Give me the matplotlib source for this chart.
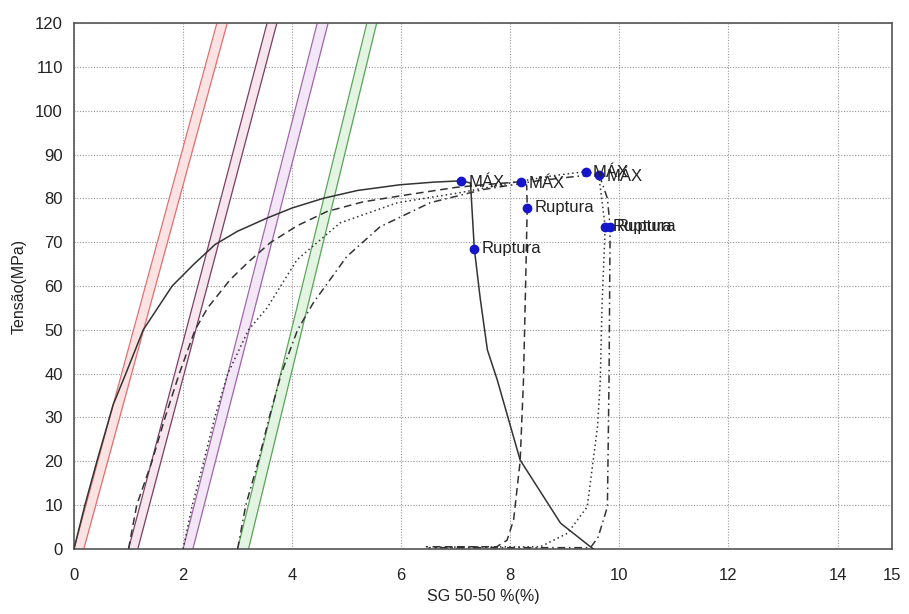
import numpy as np
import matplotlib.pyplot as plt

plt.rcParams['font.family'] = ['Liberation Sans', 'DejaVu Sans']

# ---------------- Data ----------------
# curve 1 (solid), starts at 0 %
c1_x = [0.0, 0.2, 0.42, 0.72, 0.95, 1.27, 1.8, 2.2, 2.59, 3.0, 3.54, 4.0, 4.57, 5.2, 5.98, 6.6, 7.10,
        7.27, 7.34, 7.45, 7.58, 7.76, 8.18, 8.92, 9.52]
c1_y = [0.0, 10, 20, 33, 40, 50, 60, 65, 69.5, 72.5, 75.5, 77.8, 80, 81.8, 83.1, 83.7, 84.0,
        83.5, 68.5, 57, 45.4, 38.6, 20.3, 5.9, 0.0]

# curve 2 (dashed), starts at 1 %
c2_x = [1.0, 1.15, 1.43, 1.67, 1.93, 2.22, 2.45, 2.86, 3.2, 3.6, 4.1, 4.64, 5.3, 6.0, 7.0, 7.6, 8.20,
        8.30, 8.31, 8.28, 8.24, 8.18, 8.06, 7.94, 7.75, 6.45]
c2_y = [0.0, 10, 20, 30, 40, 50, 55, 61.4, 65.5, 69.9, 73.8, 77, 79.2, 80.6, 82.5, 83.2, 83.8,
        83.0, 77.9, 60, 38, 20, 6.6, 2.0, 0.5, 0.5]

# curve 3 (dotted), starts at 2 %
c3_x = [2.0, 2.17, 2.38, 2.58, 2.82, 3.2, 3.54, 4.09, 4.88, 5.93, 7.08, 8.0, 8.8, 9.38,
        9.62, 9.74, 9.68, 9.65, 9.6, 9.41, 9.05, 8.55, 6.6]
c3_y = [0.0, 10, 20, 30, 40, 50, 55, 66, 74.4, 79, 81.3, 83.5, 85.2, 86.1,
        85.5, 73.5, 55, 38.6, 28, 9.6, 3.6, 0.5, 0.4]

# curve 4 (dash-dot), starts at 3 %
c4_x = [3.0, 3.15, 3.38, 3.58, 3.8, 4.1, 4.39, 5.0, 5.61, 6.53, 7.5, 8.5, 9.2, 9.63,
        9.78, 9.83, 9.81, 9.78, 9.61, 9.47, 6.5]
c4_y = [0.0, 10, 20, 30, 40, 50, 56.2, 66.7, 73.5, 79, 82, 84, 85, 85.4,
        80, 73.5, 38.6, 9.6, 2.7, 0.3, 0.3]

# modulus lines: strain at 0 MPa and at 120 MPa (pair per specimen)
mod_x0_a = [0.0, 1.0, 2.0, 3.0]
mod_x120_a = [2.62, 3.54, 4.46, 5.37]
mod_x0_b = [0.18, 1.17, 2.18, 3.2]
mod_x120_b = [2.81, 3.72, 4.66, 5.55]

# marked points
max_x = [7.10, 8.20, 9.38, 9.63]
max_y = [84.0, 83.8, 86.1, 85.4]
rup_x = [7.34, 8.31, 9.74, 9.83]
rup_y = [68.5, 77.9, 73.5, 73.5]

x_ticks = [0, 2, 4, 6, 8, 10, 12, 14, 15]
y_ticks = list(range(0, 121, 10))

# ---------------- Plot ----------------
fig = plt.figure(figsize=(9.09, 6.14), dpi=100)
ax = fig.add_axes([0.0814, 0.1059, 0.9, 0.8566])

line_cols = ['#e07070', '#7a3f62', '#a067a8', '#5aa55a']
fill_cols = ['#fbe3e3', '#f8e6ef', '#f3e6f6', '#e3f4e3']
yy = np.array([0.0, 120.0])
for i in range(4):
    xa = np.array([mod_x0_a[i], mod_x120_a[i]])
    xb = np.array([mod_x0_b[i], mod_x120_b[i]])
    ax.fill_betweenx(yy, xa, xb, color=fill_cols[i], lw=0, zorder=1)
    ax.plot(xa, yy, color=line_cols[i], lw=0.9, zorder=2)
    ax.plot(xb, yy, color=line_cols[i], lw=0.9, zorder=2)

ax.plot(c1_x, c1_y, color='#333333', lw=1.1, ls='-', zorder=3)
ax.plot(c2_x, c2_y, color='#333333', lw=1.1, ls=(0, (5, 3)), zorder=3)
ax.plot(c3_x, c3_y, color='#333333', lw=1.1, ls=(0, (1, 2)), zorder=3)
ax.plot(c4_x, c4_y, color='#333333', lw=1.1, ls=(0, (5, 2.5, 1, 2.5)), zorder=3)

ax.plot(max_x, max_y, 'o', color='#1515cc', ms=6, zorder=5)
ax.plot(rup_x, rup_y, 'o', color='#1515cc', ms=6, zorder=5)
for x, y in zip(max_x, max_y):
    ax.annotate('MÁX', (x, y), xytext=(5, -1), textcoords='offset points',
                va='center', ha='left', fontsize=12, color='#222222', zorder=6)
for x, y in zip(rup_x, rup_y):
    ax.annotate('Ruptura', (x, y), xytext=(5, 0), textcoords='offset points',
                va='center', ha='left', fontsize=12, color='#222222', zorder=6)

ax.set_xlim(0, 15)
ax.set_ylim(0, 120)
ax.set_xticks(x_ticks)
ax.set_yticks(y_ticks)
ax.tick_params(length=0, labelsize=12, colors='#222222')
ax.tick_params(axis='x', pad=14)
ax.tick_params(axis='y', pad=8)
ax.grid(True, color='#999999', ls=(0, (1, 1.5)), lw=0.8, zorder=0)
ax.set_axisbelow(True)
for s in ax.spines.values():
    s.set_color('#555555')
    s.set_linewidth(1.2)

ax.set_xlabel('SG 50-50 %(%)', fontsize=11.5, color='#222222', labelpad=4)
ax.set_ylabel('Tensão(MPa)', fontsize=11.5, color='#222222', labelpad=6)

fig.savefig('out.png', dpi=100)
